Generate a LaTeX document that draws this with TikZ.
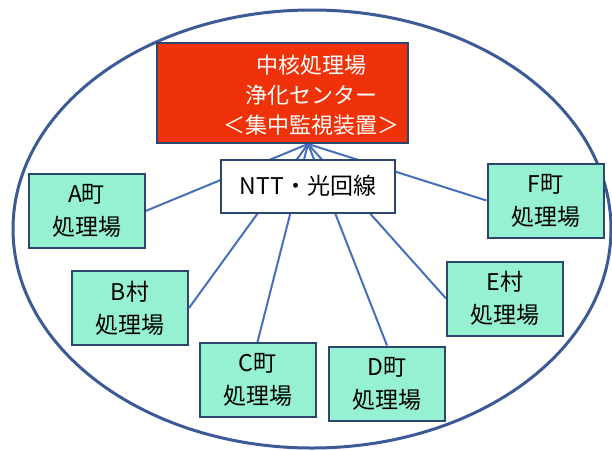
\documentclass[tikz,border=0pt]{standalone}
\usepackage{fontspec}
\setmainfont{Noto Sans CJK JP}
\usetikzlibrary{backgrounds}
\definecolor{ringblue}{RGB}{60,90,150}
\definecolor{lineblue}{RGB}{70,110,185}
\definecolor{edgeblue}{RGB}{45,70,110}
\definecolor{plantgreen}{RGB}{150,240,210}
\definecolor{centerred}{RGB}{240,50,10}

\tikzset{
  plant/.style={draw=edgeblue,line width=2pt,fill=plantgreen,
    minimum width=116pt,minimum height=74pt,inner sep=0pt,
    align=center,font=\fontsize{23}{33}\selectfont},
  link/.style={lineblue,line width=2pt}
}

\begin{document}
\begin{tikzpicture}[x=1pt,y=-1pt]
  \useasboundingbox (0,0) rectangle (612,450);

  % central plant and network
  \node[draw=edgeblue,line width=2pt,fill=centerred,
    minimum width=251pt,minimum height=100pt] (center) at (282,93) {};
  \node[text=white,align=center,font=\fontsize{22}{30}\selectfont]
    (centertext) at (311,95) {中核処理場\\浄化センター\\＜集中監視装置＞};
  \coordinate (hub) at (308,144);
  \node[draw=edgeblue,line width=2pt,fill=white,
    minimum width=174pt,minimum height=53pt,
    font=\fontsize{23}{26}\selectfont] (ntt) at (308,186) {NTT・光回線};

  % local plants
  \node[plant] (A) at (86.5,211) {A町\\処理場};
  \node[plant] (B) at (130,308) {B村\\処理場};
  \node[plant] (C) at (257.5,380) {C町\\処理場};
  \node[plant] (D) at (387,383.5) {D町\\処理場};
  \node[plant] (E) at (505,298.5) {E村\\処理場};
  \node[plant] (F) at (545.5,200.5) {F町\\処理場};

  \begin{scope}[on background layer]
    \draw[ringblue,line width=3pt] (312,229) ellipse (299pt and 219pt);
    \draw[link] (hub) -- (A.east);
    \draw[link] (hub) -- (B.east);
    \draw[link] (hub) -- (C.north);
    \draw[link] (hub) -- (D.north);
    \draw[link] (hub) -- (E.west);
    \draw[link] (hub) -- (F.west);
  \end{scope}
\end{tikzpicture}
\end{document}
